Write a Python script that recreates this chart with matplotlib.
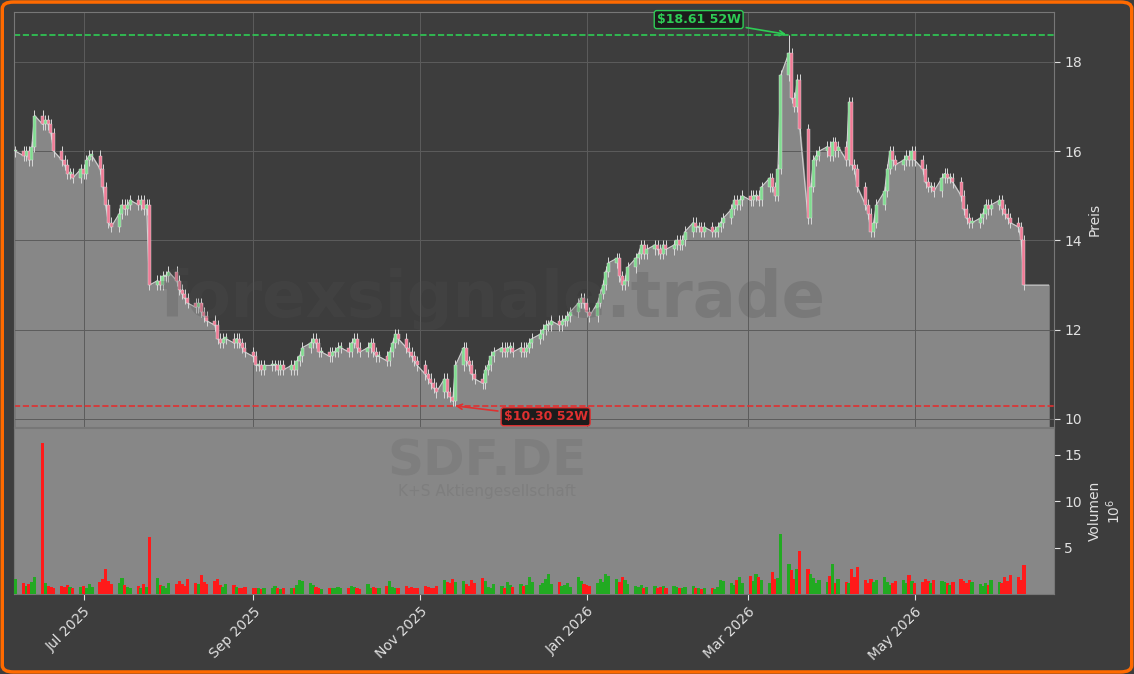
import matplotlib
matplotlib.use("Agg")
import matplotlib.pyplot as plt
import matplotlib.dates as mdates
from matplotlib.patches import FancyBboxPatch
import numpy as np
import pandas as pd

START = "2025-06-06"
# daily closes, one row per week
closes = [
    16.0, 15.9, 16.0, 15.8, 16.1, 16.8, 16.6, 16.7, 16.6, 16.4,
    16.0, 15.8, 15.7, 15.5, 15.5, 15.4, 15.6, 15.5, 15.8, 15.9,
    15.9, 15.6, 15.2, 14.8, 14.4, 14.3, 14.6, 14.8, 14.7, 14.8,
    14.9, 14.8, 14.9, 14.7, 14.8, 13.0, 13.1, 13.0, 13.2, 13.2,
    13.3, 13.1, 12.9, 12.8, 12.7, 12.6, 12.5, 12.6, 12.4, 12.3,
    12.2, 12.1, 11.8, 11.7, 11.8, 11.8, 11.7, 11.8, 11.7, 11.6,
    11.5, 11.4, 11.2, 11.2, 11.1, 11.2, 11.2, 11.2, 11.1, 11.2,
    11.1, 11.2, 11.1, 11.3, 11.4, 11.6, 11.7, 11.8, 11.7, 11.5,
    11.5, 11.4, 11.5, 11.5, 11.6, 11.6, 11.5, 11.7, 11.8, 11.6,
    11.5, 11.6, 11.7, 11.5, 11.4, 11.4, 11.3, 11.5, 11.7, 11.9,
    11.8, 11.6, 11.5, 11.4, 11.3, 11.2, 11.0, 10.9, 10.8, 10.7,
    10.6, 10.9, 10.6, 10.5, 10.4, 11.2, 11.6, 11.3, 11.2, 11.0,
    10.9, 10.8, 11.1, 11.2, 11.4, 11.5, 11.6, 11.5, 11.6, 11.6,
    11.5, 11.6, 11.5, 11.6, 11.7, 11.8, 11.9, 12.0, 12.1, 12.1,
    12.2, 12.1, 12.2, 12.2, 12.3, 12.4, 12.6, 12.7, 12.6, 12.4,
    12.3, 12.6, 12.8, 13.0, 13.3, 13.5, 13.6, 13.2, 13.0, 13.1,
    13.4, 13.6, 13.7, 13.9, 13.7, 13.8, 13.9, 13.8, 13.7, 13.9,
    13.8, 13.9, 14.0, 13.9, 14.0, 14.2, 14.4, 14.3, 14.3, 14.2,
    14.3, 14.2, 14.2, 14.3, 14.4, 14.5, 14.7, 14.9, 14.8, 14.9,
    15.0, 14.9, 15.0, 15.0, 14.9, 15.2, 15.4, 15.2, 15.0, 15.6,
    17.7, 18.2, 17.2, 17.0, 17.6, 16.5, 14.5, 15.2, 15.8, 15.9,
    16.0, 16.1, 15.9, 16.2, 16.0, 16.1, 15.8, 17.1, 15.7, 15.6,
    15.2, 14.8, 14.6, 14.2, 14.4, 14.8, 15.1, 15.6, 16.0, 15.8,
    15.7, 15.8, 15.9, 15.8, 16.0, 15.8, 15.6, 15.3, 15.2, 15.2,
    15.1, 15.4, 15.5, 15.4, 15.4, 15.3, 15.0, 14.7, 14.5, 14.4,
    14.4, 14.5, 14.6, 14.8, 14.7, 14.8, 14.9, 14.7, 14.6, 14.5,
    14.4, 14.3, 14.0, 13.0,
]
# volume in millions
volumes = [
    1.6, 1.2, 0.9, 1.1, 1.3, 1.8, 16.3, 1.2, 0.9, 0.8,
    0.7, 0.9, 0.8, 1.0, 0.8, 0.7, 0.8, 0.9, 0.7, 1.1,
    0.8, 1.3, 1.6, 2.7, 1.4, 1.1, 1.2, 1.7, 1.0, 0.8,
    0.7, 0.9, 0.6, 1.1, 0.8, 6.1, 1.7, 1.0, 0.9, 0.7,
    1.2, 1.1, 1.4, 1.1, 0.9, 1.6, 1.2, 1.1, 2.0, 1.3,
    1.1, 1.4, 1.6, 1.0, 0.8, 1.1, 1.0, 0.8, 0.7, 0.6,
    0.8, 0.6, 0.7, 0.6, 0.5, 0.7, 0.6, 0.9, 0.6, 0.5,
    0.6, 0.7, 0.6, 1.0, 1.5, 1.4, 1.2, 1.0, 0.8, 0.6,
    0.5, 0.7, 0.6, 0.7, 0.8, 0.6, 0.7, 0.9, 0.8, 0.6,
    0.5, 1.1, 0.7, 0.8, 0.6, 0.7, 0.9, 1.4, 0.8, 0.7,
    0.6, 0.9, 0.7, 0.8, 0.6, 0.7, 0.9, 0.8, 0.6, 0.7,
    0.9, 1.5, 1.3, 1.2, 1.6, 1.3, 1.4, 1.1, 0.9, 1.5,
    1.2, 1.7, 1.4, 0.8, 0.7, 1.1, 0.9, 0.7, 1.3, 1.0,
    0.8, 1.1, 0.9, 1.0, 1.8, 1.3, 1.0, 1.2, 1.6, 2.2,
    1.1, 1.3, 0.9, 1.0, 1.2, 0.8, 1.8, 1.4, 1.1, 1.0,
    0.9, 1.2, 1.6, 1.3, 2.2, 1.9, 1.6, 1.3, 1.8, 1.5,
    1.1, 0.9, 0.8, 1.0, 0.7, 0.8, 0.9, 0.7, 0.8, 0.9,
    0.6, 0.9, 0.8, 0.6, 0.7, 0.8, 0.9, 0.7, 0.6, 0.5,
    0.7, 0.6, 0.5, 0.8, 1.5, 1.4, 1.2, 1.0, 1.5, 1.8,
    1.2, 1.9, 1.4, 2.2, 1.8, 1.5, 1.2, 2.4, 1.6, 1.7,
    6.5, 3.2, 2.6, 1.6, 2.7, 4.6, 2.7, 2.2, 1.7, 1.2,
    1.5, 1.3, 1.9, 3.2, 1.2, 1.6, 1.3, 1.2, 2.7, 1.8,
    2.9, 1.5, 1.2, 1.6, 1.3, 1.5, 1.8, 1.3, 1.0, 1.2,
    1.4, 1.5, 1.2, 2.0, 1.4, 1.2, 1.3, 1.6, 1.4, 1.2,
    1.5, 1.4, 1.3, 1.2, 1.0, 1.3, 1.6, 1.4, 1.2, 1.5,
    1.3, 1.1, 0.9, 1.2, 1.0, 1.5, 1.3, 1.2, 1.8, 1.4,
    2.1, 1.8, 1.5, 3.1,
]
high_52w = 18.61
low_52w = 10.30
high_idx = 201
low_idx = 114

BG = "#3d3d3d"
FILL = "#878787"
UP = "#7fdc8f"
DOWN = "#ef7a95"

dates = pd.bdate_range(START, periods=len(closes))
x = mdates.date2num(dates)
c = np.array(closes)
o = np.concatenate([[closes[0]], c[:-1]])
hi = np.maximum(o, c) + 0.12
lo = np.minimum(o, c) - 0.12
hi[high_idx] = high_52w
lo[low_idx] = low_52w

fig = plt.figure(figsize=(11.34, 6.74), dpi=100, facecolor=BG)
ax = fig.add_axes([14 / 1134, 1 - 427 / 674, 1040 / 1134, 415 / 674], facecolor=BG)
axv = fig.add_axes([14 / 1134, 1 - 594 / 674, 1040 / 1134, 166 / 674], facecolor=FILL, sharex=ax)

# area under close, held flat a few days past the last bar
xf = np.concatenate([x, [x[-1] + 9]])
cf = np.concatenate([c, [c[-1]]])
ax.fill_between(xf, cf, 9.82, color=FILL, zorder=1)
ax.plot(xf, cf, color="#cfcfcf", lw=0.8, zorder=2)

w = 1.1
for xi, oi, ci, h, l in zip(x, o, c, hi, lo):
    col = UP if ci >= oi else DOWN
    ax.vlines(xi, l, h, color="#d8d8d8", lw=0.7, zorder=3)
    ax.bar(xi, max(abs(ci - oi), 0.03), w, bottom=min(oi, ci), color=col,
           edgecolor="#e0e0e0", lw=0.3, zorder=4)

ax.axhline(high_52w, color="#2ecc55", ls="--", lw=1.2, zorder=2)
ax.axhline(low_52w, color="#e03030", ls="--", lw=1.2, zorder=2)
ax.annotate(f"${high_52w:.2f} 52W", xy=(x[high_idx], high_52w),
            xytext=(x[high_idx] - 33, 18.95), ha="center", va="center",
            color="#2ecc55", fontsize=9, fontweight="bold",
            bbox=dict(boxstyle="round,pad=0.2", fc="#1c1c1c", ec="#2ecc55"),
            arrowprops=dict(arrowstyle="->", color="#2ecc55", lw=1.2))
ax.annotate(f"${low_52w:.2f} 52W", xy=(x[low_idx], low_52w),
            xytext=(x[low_idx] + 34, 10.05), ha="center", va="center",
            color="#e03030", fontsize=9, fontweight="bold",
            bbox=dict(boxstyle="round,pad=0.2", fc="#1c1c1c", ec="#e03030"),
            arrowprops=dict(arrowstyle="->", color="#e03030", lw=1.2))

ax.text(0.46, 0.31, "forexsignale.trade", transform=ax.transAxes, fontsize=46,
        fontweight="bold", color="#505050", alpha=0.25, ha="center", va="center", zorder=5)

ax.set_ylim(9.82, 19.12)
ax.set_xlim(x[0] - 0.5, x[-1] + 11)
ax.yaxis.tick_right()
ax.yaxis.set_label_position("right")
ax.set_yticks([10, 12, 14, 16, 18])
ax.set_ylabel("Preis", color="#e0e0e0")
ax.xaxis.set_major_locator(mdates.MonthLocator(bymonth=[2, 4, 6, 8, 10, 12]))
ax.grid(True, color="#5c5c5c", lw=0.7)
ax.tick_params(colors="#e0e0e0", labelbottom=False, bottom=False, length=4)
for s in ax.spines.values():
    s.set_color("#777777")

vcol = ["#22aa22" if ci >= oi else "#ff1a1a" for oi, ci in zip(o, c)]
axv.bar(x, volumes, 1.2, color=vcol, zorder=3)
axv.set_ylim(0, 17.9)
axv.set_yticks([5, 10, 15])
axv.yaxis.tick_right()
axv.yaxis.set_label_position("right")
axv.set_ylabel("Volumen\n$10^6$", color="#e0e0e0")
axv.tick_params(colors="#e0e0e0", length=4)
for s in axv.spines.values():
    s.set_color("#777777")
axv.text(0.455, 0.8, "SDF.DE", transform=axv.transAxes, fontsize=36, fontweight="bold",
         color="#7e7e7e", ha="center", va="center", zorder=1)
axv.text(0.455, 0.62, "K+S Aktiengesellschaft", transform=axv.transAxes, fontsize=11,
         color="#7e7e7e", ha="center", va="center", zorder=1)
axv.xaxis.set_major_locator(mdates.MonthLocator(bymonth=[1, 3, 5, 7, 9, 11]))
axv.xaxis.set_major_formatter(mdates.DateFormatter("%b %Y"))
plt.setp(axv.get_xticklabels(), rotation=45, ha="right", rotation_mode="anchor")

fig.patches.append(FancyBboxPatch((0.002, 0.003), 0.996, 0.994, boxstyle="round,pad=0,rounding_size=0.01",
                                  transform=fig.transFigure, fc="none", ec="#ff6a00", lw=2.5))
fig.savefig("out.png", dpi=100, facecolor=BG)
